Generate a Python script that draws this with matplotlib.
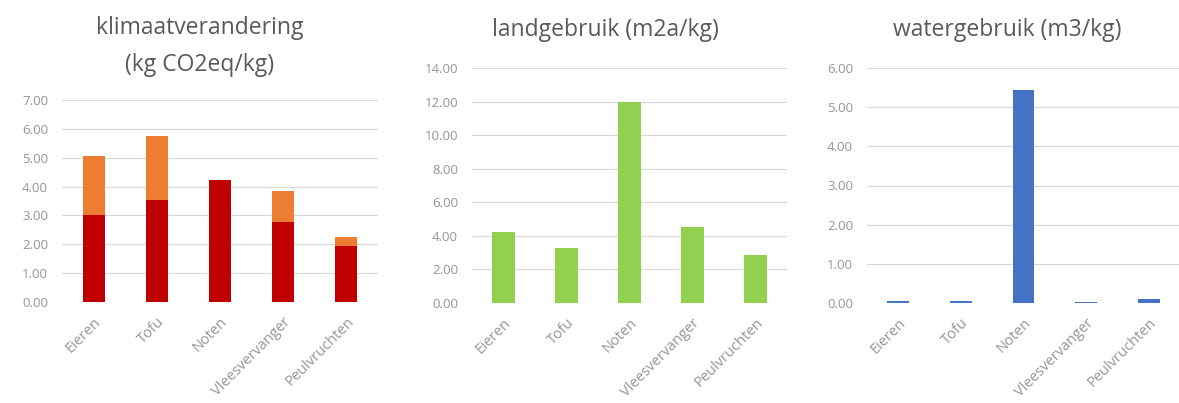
import matplotlib
matplotlib.use('Agg')
import matplotlib.pyplot as plt
import numpy as np

# data
categories = ['Eieren', 'Tofu', 'Noten', 'Vleesvervanger', 'Peulvruchten']
klimaat_basis = [3.02, 3.53, 4.22, 2.77, 1.93]
klimaat_extra = [2.05, 2.21, 0.0, 1.08, 0.33]
landgebruik = [4.24, 3.29, 12.0, 4.50, 2.85]
watergebruik = [0.06, 0.06, 5.43, 0.03, 0.11]

plt.rcParams['font.family'] = ['Open Sans', 'DejaVu Sans']

fig = plt.figure(figsize=(11.79, 4.03), dpi=100)
W, H = 1179, 403

def make_ax(x0, x1, ytop, ybot):
    return fig.add_axes([x0 / W, 1 - ybot / H, (x1 - x0) / W, (ybot - ytop) / H])

def style(ax, ymax, step):
    ax.set_xlim(-0.5, 4.5)
    ax.set_ylim(0, ymax)
    ticks = np.arange(0, ymax + step / 2, step)
    ax.set_yticks(ticks)
    ax.set_yticklabels([f'{t:.2f}' for t in ticks])
    ax.yaxis.grid(True, color='#d9d9d9', linewidth=0.9)
    ax.set_axisbelow(True)
    for s in ax.spines.values():
        s.set_visible(False)
    ax.tick_params(axis='both', length=0, labelcolor='#959595')
    ax.tick_params(axis='y', pad=10, labelsize=9.5)
    ax.tick_params(axis='x', pad=9, labelsize=10.5)
    ax.set_xticks(range(len(categories)))
    ax.set_xticklabels(categories, rotation=45, ha='right', rotation_mode='anchor')

x = np.arange(len(categories))
bw = 0.35

# klimaatverandering
ax1 = make_ax(62, 378, 100, 302)
ax1.bar(x, klimaat_basis, width=bw, color='#C00000', zorder=2)
ax1.bar(x, klimaat_extra, width=bw, bottom=klimaat_basis, color='#ED7D31', zorder=2)
style(ax1, 7, 1)

# landgebruik
ax2 = make_ax(472, 787, 68, 303)
ax2.bar(x, landgebruik, width=bw, color='#92D050', zorder=2)
style(ax2, 14, 2)

# watergebruik
ax3 = make_ax(867, 1180, 68, 303)
ax3.bar(x, watergebruik, width=bw, color='#4472C4', zorder=2)
style(ax3, 6, 1)

tcol = '#595959'
fig.text(200 / W, 1 - 28 / H, 'klimaatverandering', ha='center', va='center', fontsize=16.5, color=tcol)
fig.text(200 / W, 1 - 65 / H, '(kg CO2eq/kg)', ha='center', va='center', fontsize=16.5, color=tcol)
fig.text(605 / W, 1 - 30 / H, 'landgebruik (m2a/kg)', ha='center', va='center', fontsize=16.5, color=tcol)
fig.text(1007 / W, 1 - 30 / H, 'watergebruik (m3/kg)', ha='center', va='center', fontsize=16.5, color=tcol)

fig.savefig('out.png', dpi=100, facecolor='white')
